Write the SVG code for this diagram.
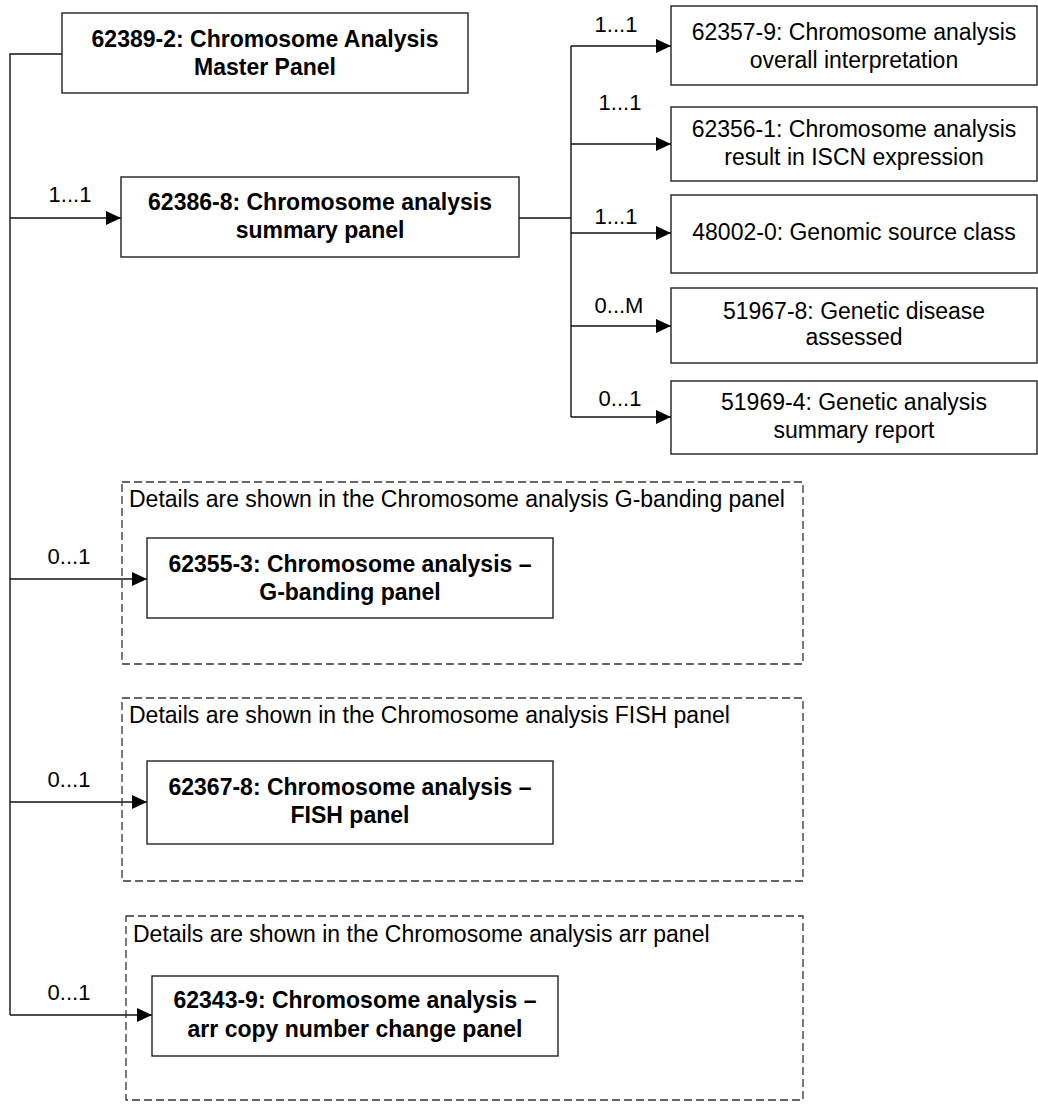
<svg xmlns="http://www.w3.org/2000/svg" width="1038" height="1109" viewBox="0 0 1038 1109">
<style>
text{font-family:"Liberation Sans",Arial,sans-serif;font-size:23px;fill:#000}
.lbl{font-size:22px}
.b{font-weight:bold}
.c{text-anchor:middle}
.box{fill:#fff;stroke:#222;stroke-width:1.4}
.dash{fill:none;stroke:#333;stroke-width:1.3;stroke-dasharray:8 4}
.ln{fill:none;stroke:#111;stroke-width:1.4}
</style>
<defs>
<marker id="ah" markerWidth="15" markerHeight="14" refX="15" refY="7" orient="auto" markerUnits="userSpaceOnUse">
<path d="M0,0 L15,7 L0,14 Z" fill="#000"/>
</marker>
</defs>
<g id="connectors">
<path class="ln" d="M62,54 H10 V1015"/>
<path class="ln" d="M10,218 H121" marker-end="url(#ah)"/>
<path class="ln" d="M10,579 H147" marker-end="url(#ah)"/>
<path class="ln" d="M10,802 H147" marker-end="url(#ah)"/>
<path class="ln" d="M10,1015 H152" marker-end="url(#ah)"/>
<path class="ln" d="M519,218 H571"/>
<path class="ln" d="M571,46 V417"/>
<path class="ln" d="M571,46 H671" marker-end="url(#ah)"/>
<path class="ln" d="M571,144 H671" marker-end="url(#ah)"/>
<path class="ln" d="M571,233 H671" marker-end="url(#ah)"/>
<path class="ln" d="M571,326 H671" marker-end="url(#ah)"/>
<path class="ln" d="M571,417 H671" marker-end="url(#ah)"/>
<text x="70" y="202" class="c lbl">1...1</text>
<text x="69" y="564" class="c lbl">0...1</text>
<text x="69" y="787" class="c lbl">0...1</text>
<text x="69" y="1000" class="c lbl">0...1</text>
<text x="616" y="32" class="c lbl">1...1</text>
<text x="620" y="110" class="c lbl">1...1</text>
<text x="616" y="224" class="c lbl">1...1</text>
<text x="619" y="313" class="c lbl">0...M</text>
<text x="620" y="406" class="c lbl">0...1</text>
</g>
<g id="master">
<rect class="box" x="62" y="13" width="406" height="80"/>
<text class="b c" x="265" y="47">62389-2: Chromosome Analysis</text>
<text class="b c" x="265" y="75">Master Panel</text>
</g>
<g id="summary">
<rect class="box" x="121" y="177" width="398" height="80"/>
<text class="b c" x="320" y="210">62386-8: Chromosome analysis</text>
<text class="b c" x="320" y="238">summary panel</text>
</g>
<g id="n62357">
<rect class="box" x="671" y="6" width="366" height="79"/>
<text class="c" x="854" y="40">62357-9: Chromosome analysis</text>
<text class="c" x="854" y="68">overall interpretation</text>
</g>
<g id="n62356">
<rect class="box" x="671" y="107" width="366" height="74"/>
<text class="c" x="854" y="137">62356-1: Chromosome analysis</text>
<text class="c" x="854" y="165">result in ISCN expression</text>
</g>
<g id="n48002">
<rect class="box" x="671" y="195" width="366" height="78"/>
<text class="c" x="854" y="240">48002-0: Genomic source class</text>
</g>
<g id="n51967">
<rect class="box" x="671" y="288" width="366" height="75"/>
<text class="c" x="854" y="319">51967-8: Genetic disease</text>
<text class="c" x="854" y="345">assessed</text>
</g>
<g id="n51969">
<rect class="box" x="671" y="381" width="366" height="73"/>
<text class="c" x="854" y="410">51969-4: Genetic analysis</text>
<text class="c" x="854" y="438">summary report</text>
</g>
<g id="gbanding-group">
<rect class="dash" x="122" y="482" width="681" height="182"/>
<text x="129" y="507">Details are shown in the Chromosome analysis G-banding panel</text>
</g>
<g id="gbanding">
<rect class="box" x="147" y="538" width="406" height="80"/>
<text class="b c" x="350" y="572">62355-3: Chromosome analysis –</text>
<text class="b c" x="350" y="600">G-banding panel</text>
</g>
<g id="fish-group">
<rect class="dash" x="122" y="698" width="681" height="183"/>
<text x="129" y="723">Details are shown in the Chromosome analysis FISH panel</text>
</g>
<g id="fish">
<rect class="box" x="147" y="761" width="406" height="83"/>
<text class="b c" x="350" y="795">62367-8: Chromosome analysis –</text>
<text class="b c" x="350" y="823">FISH panel</text>
</g>
<g id="arr-group">
<rect class="dash" x="126" y="916" width="677" height="184"/>
<text x="133" y="942">Details are shown in the Chromosome analysis arr panel</text>
</g>
<g id="arr">
<rect class="box" x="152" y="976" width="406" height="80"/>
<text class="b c" x="355" y="1008">62343-9: Chromosome analysis –</text>
<text class="b c" x="355" y="1037">arr copy number change panel</text>
</g>
</svg>
